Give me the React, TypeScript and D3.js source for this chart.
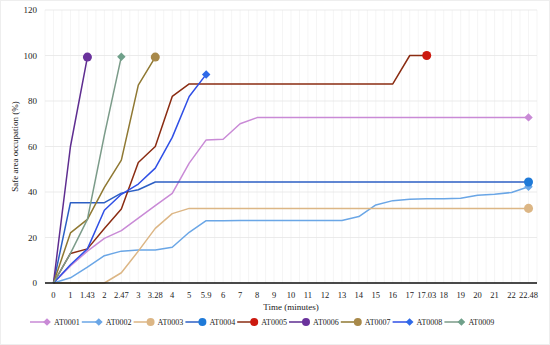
import { scalePoint, scaleLinear, line as d3Line, symbol, symbolSquare, symbolCircle } from "d3";

// x categories (time in minutes, evenly spaced)
const times = ["0", "1", "1.43", "2", "2.47", "3", "3.28", "4", "5", "5.9", "6", "7", "8", "9", "10", "11", "12", "13", "14", "15", "16", "17", "17.03", "18", "19", "20", "21", "22", "22.48"];
const yTicks = [0, 20, 40, 60, 80, 100, 120];

const at0001 = [0, 7.5, 14, 19.6, 23, 28.5, 34, 39.4, 52.7, 62.9, 63.2, 70, 72.7, 72.8, 72.8, 72.8, 72.8, 72.8, 72.8, 72.8, 72.8, 72.8, 72.8, 72.8, 72.8, 72.8, 72.8, 72.8, 72.8];
const at0002 = [0, 2.3, 7, 12, 14, 14.5, 14.5, 15.7, 22.3, 27.4, 27.4, 27.5, 27.5, 27.5, 27.5, 27.5, 27.5, 27.5, 29.2, 34.3, 36.2, 36.8, 37, 37, 37.3, 38.6, 39, 39.8, 42.3];
const at0003 = [0, 0, 0, 0, 4.5, 14, 24, 30.5, 32.8, 32.8, 32.8, 32.8, 32.8, 32.8, 32.8, 32.8, 32.8, 32.8, 32.8, 32.8, 32.8, 32.8, 32.8, 32.8, 32.8, 32.8, 32.8, 32.8, 32.8];
const at0004 = [0, 35.3, 35.3, 35.3, 39.5, 41, 44.4, 44.4, 44.4, 44.4, 44.4, 44.4, 44.4, 44.4, 44.4, 44.4, 44.4, 44.4, 44.4, 44.4, 44.4, 44.4, 44.4, 44.4, 44.4, 44.4, 44.4, 44.4, 44.4];
const at0005 = [0, 13, 15, 24, 32.5, 53, 60, 82, 87.5, 87.5, 87.5, 87.5, 87.5, 87.5, 87.5, 87.5, 87.5, 87.5, 87.5, 87.5, 87.5, 100, 100];
const at0006 = [0, 60, 99.3];
const at0007 = [0, 22, 28, 42, 54, 87, 99.3];
const at0008 = [0, 8, 15, 32, 39, 43.5, 50.5, 64, 82, 91.7];
const at0009 = [0, 13, 28, 65, 99.5];

const series = [
  { name: "AT0001", values: at0001, line: "#c98ad6", marker: "#c98ad6", shape: "diamond" },
  { name: "AT0002", values: at0002, line: "#6aa6e6", marker: "#6aa6e6", shape: "diamond" },
  { name: "AT0003", values: at0003, line: "#dcb685", marker: "#dcb685", shape: "circle" },
  { name: "AT0004", values: at0004, line: "#2c5fc4", marker: "#1f7ad8", shape: "circle" },
  { name: "AT0005", values: at0005, line: "#8a2c12", marker: "#cc1a10", shape: "circle" },
  { name: "AT0006", values: at0006, line: "#5e2d90", marker: "#6a329c", shape: "circle" },
  { name: "AT0007", values: at0007, line: "#8f7832", marker: "#a8894a", shape: "circle" },
  { name: "AT0008", values: at0008, line: "#2f4fe6", marker: "#2f6ae8", shape: "diamond" },
  { name: "AT0009", values: at0009, line: "#7b9b89", marker: "#6fa08a", shape: "diamond" },
];

const MARGINS = { top: 10, right: 13, bottom: 62, left: 45 };
const W = 550;
const H = 345;
const FONT = "'Liberation Serif', 'DejaVu Serif', serif";

const App = () => {
  const xScale = scalePoint<string>()
    .domain(times)
    .range([MARGINS.left, W - MARGINS.right])
    .padding(0.5);
  const yScale = scaleLinear()
    .domain([0, 120])
    .range([H - MARGINS.bottom, MARGINS.top]);
  const step = xScale.step();

  const line = d3Line<number>()
    .x((_, i) => xScale(times[i]) as number)
    .y((d) => yScale(d));

  // diamonds are squares turned 45 degrees
  const markerPath = (shape: string, size: number) =>
    symbol()
      .type(shape === "circle" ? symbolCircle : symbolSquare)
      .size(size)() as string;
  const markerRot = (shape: string) => (shape === "circle" ? "" : " rotate(45)");

  // vertical minor grid at band centres and edges
  const vGrid: number[] = [];
  for (let i = 0; i <= times.length * 2; i++) {
    vGrid.push(MARGINS.left + (i * step) / 2);
  }

  const legendX0 = 47;
  const legendStep = 51.8;
  const legendY = 322;

  return (
    <svg width={W} height={H} style={{ position: "fixed", left: 0, top: 0, background: "#fff" }}>
      <rect x={0.5} y={0.5} width={W - 1} height={H - 1} fill="none" stroke="#eeeeee" />
      {/* grid */}
      {vGrid.map((x, i) => (
        <line key={"v" + i} x1={x} x2={x} y1={MARGINS.top} y2={H - MARGINS.bottom} stroke="#f3f3f3" strokeWidth={0.8} />
      ))}
      {yTicks.map((t) => (
        <line key={"h" + t} x1={MARGINS.left} x2={W - MARGINS.right} y1={yScale(t)} y2={yScale(t)} stroke="#e6e6e6" strokeWidth={0.8} />
      ))}
      {/* y tick labels */}
      {yTicks.map((t) => (
        <text key={"yl" + t} x={37} y={yScale(t)} dy="0.35em" textAnchor="end" fontSize={9} fontFamily={FONT} fill="#222">
          {t}
        </text>
      ))}
      {/* x tick labels */}
      {times.map((t) => (
        <text key={"xl" + t} x={xScale(t)} y={298} textAnchor="middle" fontSize={8.5} fontFamily={FONT} fill="#222">
          {t}
        </text>
      ))}
      {/* axis titles */}
      <text x={291} y={310} textAnchor="middle" fontSize={9} fontFamily={FONT} fill="#222">
        Time (minutes)
      </text>
      <text transform={`translate(18, ${(MARGINS.top + H - MARGINS.bottom) / 2}) rotate(-90)`} textAnchor="middle" fontSize={9} fontFamily={FONT} fill="#222">
        Safe area occupation (%)
      </text>
      {/* lines */}
      {series.map((s) => (
        <path key={s.name} d={line(s.values) as string} fill="none" stroke={s.line} strokeWidth={1.5} strokeLinejoin="round" />
      ))}
      {/* end markers */}
      {series.map((s) => {
        const i = s.values.length - 1;
        return (
          <path
            key={"m" + s.name}
            d={markerPath(s.shape, s.shape === "circle" ? 64 : 36)}
            transform={`translate(${xScale(times[i])}, ${yScale(s.values[i])})${markerRot(s.shape)}`}
            fill={s.marker}
          />
        );
      })}
      {/* x axis line */}
      <line x1={MARGINS.left} x2={W - MARGINS.right} y1={yScale(0)} y2={yScale(0)} stroke="#111" strokeWidth={1.6} />
      {/* legend */}
      {series.map((s, i) => {
        const cx = legendX0 + i * legendStep;
        return (
          <g key={"lg" + s.name}>
            <line x1={cx - 17} x2={cx} y1={legendY} y2={legendY} stroke={s.line} strokeWidth={1.5} />
            <path
              d={markerPath(s.shape, s.shape === "circle" ? 50 : 30)}
              transform={`translate(${cx}, ${legendY})${markerRot(s.shape)}`}
              fill={s.marker}
            />
            <text x={cx + 7} y={legendY} dy="0.35em" fontSize={8} fontFamily={FONT} fill="#222">
              {s.name}
            </text>
          </g>
        );
      })}
    </svg>
  );
};

export default App;
